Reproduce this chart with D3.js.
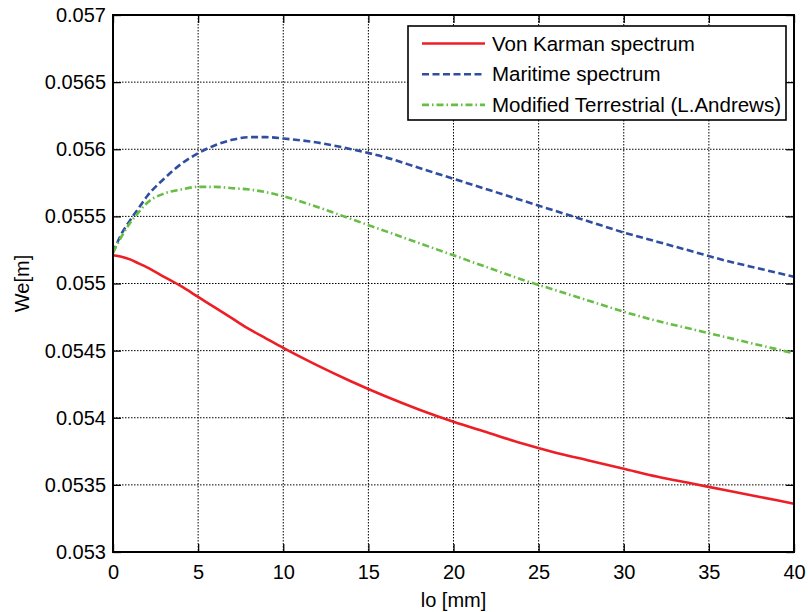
<html>
<meta charset="utf-8" />
<script src="https://d3js.org/d3.v7.min.js"></script>
<style>
  body { margin: 0; background: #fff; }
  text { font-family: "Liberation Sans", Arial, sans-serif; fill: #000; }
  .grid line { stroke: #000; stroke-width: 1; stroke-dasharray: 1.5,1.5; }
</style>
<body>
<svg id="chart" width="808" height="612"></svg>
<script>
  // lo [mm] sample positions
  const lo = [0, 0.5, 1, 1.5, 2, 3, 4, 5, 6, 7, 8, 9, 10, 12, 14, 16, 18, 20, 22, 24, 26, 28, 30, 32, 34, 36, 38, 40];

  const vonKarman = [0.05521, 0.0552, 0.05518, 0.05515, 0.05512, 0.05505, 0.05498, 0.0549, 0.05482, 0.05474,
    0.05466, 0.05459, 0.05452, 0.05439, 0.05427, 0.05416, 0.05406, 0.05397, 0.05389, 0.05381,
    0.05374, 0.05368, 0.05362, 0.05356, 0.05351, 0.05346, 0.05341, 0.05336];

  const maritime = [0.05523, 0.05537, 0.05547, 0.05556, 0.05565, 0.05578, 0.05589, 0.05597, 0.05603, 0.05607,
    0.05609, 0.05609, 0.05608, 0.05605, 0.056, 0.05594, 0.05586, 0.05578, 0.0557, 0.05562,
    0.05554, 0.05546, 0.05538, 0.05531, 0.05524, 0.05517, 0.05511, 0.05505];

  const modified = [0.05523, 0.05535, 0.05545, 0.05553, 0.0556, 0.05567, 0.0557, 0.05572, 0.05572, 0.05571,
    0.0557, 0.05568, 0.05565, 0.05557, 0.05548, 0.05539, 0.0553, 0.05521, 0.05512, 0.05503,
    0.05495, 0.05487, 0.05479, 0.05472, 0.05466, 0.0546, 0.05454, 0.05448];

  const xTicks = [0, 5, 10, 15, 20, 25, 30, 35, 40];
  const yTicks = [0.053, 0.0535, 0.054, 0.0545, 0.055, 0.0555, 0.056, 0.0565, 0.057];
  const seriesNames = ["Von Karman spectrum", "Maritime spectrum", "Modified Terrestrial (L.Andrews)"];

  const series = [
    { name: seriesNames[0], values: vonKarman, color: "#ed1f26", dash: null },
    { name: seriesNames[1], values: maritime, color: "#2f4ea2", dash: "7,3.5" },
    { name: seriesNames[2], values: modified, color: "#67bd45", dash: "7,3,1.5,3" }
  ];

  const margin = { left: 113, top: 15, right: 14, bottom: 60 };
  const width = 808 - margin.left - margin.right;
  const height = 612 - margin.top - margin.bottom;
  const fontSize = 20;

  const svg = d3.select("#chart");
  const g = svg.append("g").attr("transform", `translate(${margin.left},${margin.top})`);

  const x = d3.scaleLinear().domain([0, 40]).range([0, width]);
  const y = d3.scaleLinear().domain([0.053, 0.057]).range([height, 0]);

  // grid
  g.append("g").attr("class", "grid")
    .selectAll("line").data(xTicks.slice(1, -1)).join("line")
    .attr("x1", d => x(d)).attr("x2", d => x(d))
    .attr("y1", 0).attr("y2", height);
  g.append("g").attr("class", "grid")
    .selectAll("line").data(yTicks.slice(1, -1)).join("line")
    .attr("x1", 0).attr("x2", width)
    .attr("y1", d => y(d)).attr("y2", d => y(d));

  // axes, matlab style ticks inward
  const xAxis = g.append("g").attr("transform", `translate(0,${height})`)
    .call(d3.axisBottom(x).tickValues(xTicks).tickSize(-8).tickPadding(13).tickFormat(d3.format("d")));
  const xAxisTop = g.append("g")
    .call(d3.axisTop(x).tickValues(xTicks).tickSize(-8).tickFormat(""));
  const yAxis = g.append("g")
    .call(d3.axisLeft(y).tickValues(yTicks).tickSize(-8).tickPadding(7).tickFormat(d => +d.toFixed(4) + ""));
  const yAxisRight = g.append("g").attr("transform", `translate(${width},0)`)
    .call(d3.axisRight(y).tickValues(yTicks).tickSize(-8).tickFormat(""));

  [xAxis, xAxisTop, yAxis, yAxisRight].forEach(a => {
    a.select(".domain").remove();
    a.selectAll(".tick line").attr("stroke", "#000").attr("stroke-width", 1.3);
    a.selectAll("text").attr("font-size", fontSize).attr("font-family", "Liberation Sans, Arial, sans-serif");
  });

  // lines
  const line = d3.line()
    .x((d, i) => x(lo[i]))
    .y(d => y(d))
    .curve(d3.curveMonotoneX);

  g.selectAll(".series").data(series).join("path")
    .attr("class", "series")
    .attr("d", d => line(d.values))
    .attr("fill", "none")
    .attr("stroke", d => d.color)
    .attr("stroke-width", 2.6)
    .attr("stroke-dasharray", d => d.dash);

  // frame
  g.append("rect").attr("width", width).attr("height", height)
    .attr("fill", "none").attr("stroke", "#000").attr("stroke-width", 2);

  // legend
  const legend = g.append("g").attr("transform", `translate(${408 - margin.left},${26 - margin.top})`);
  legend.append("rect").attr("width", 378).attr("height", 94)
    .attr("fill", "#fff").attr("stroke", "#000").attr("stroke-width", 1.6);
  const rows = legend.selectAll(".row").data(series).join("g")
    .attr("transform", (d, i) => `translate(0,${17.5 + i * 30.7})`);
  rows.append("line").attr("x1", 14).attr("x2", 77)
    .attr("stroke", d => d.color).attr("stroke-width", 2.6)
    .attr("stroke-dasharray", d => d.dash);
  rows.append("text").attr("x", 84).attr("dy", "0.35em")
    .attr("font-size", 20.5).text(d => d.name);

  // axis titles
  svg.append("text")
    .attr("x", margin.left + width / 2).attr("y", 607)
    .attr("text-anchor", "middle").attr("font-size", fontSize)
    .text("lo [mm]");
  svg.append("text")
    .attr("transform", `translate(29,${margin.top + height / 2}) rotate(-90)`)
    .attr("text-anchor", "middle").attr("font-size", fontSize)
    .text("We[m]");
</script>
</body>
</html>
